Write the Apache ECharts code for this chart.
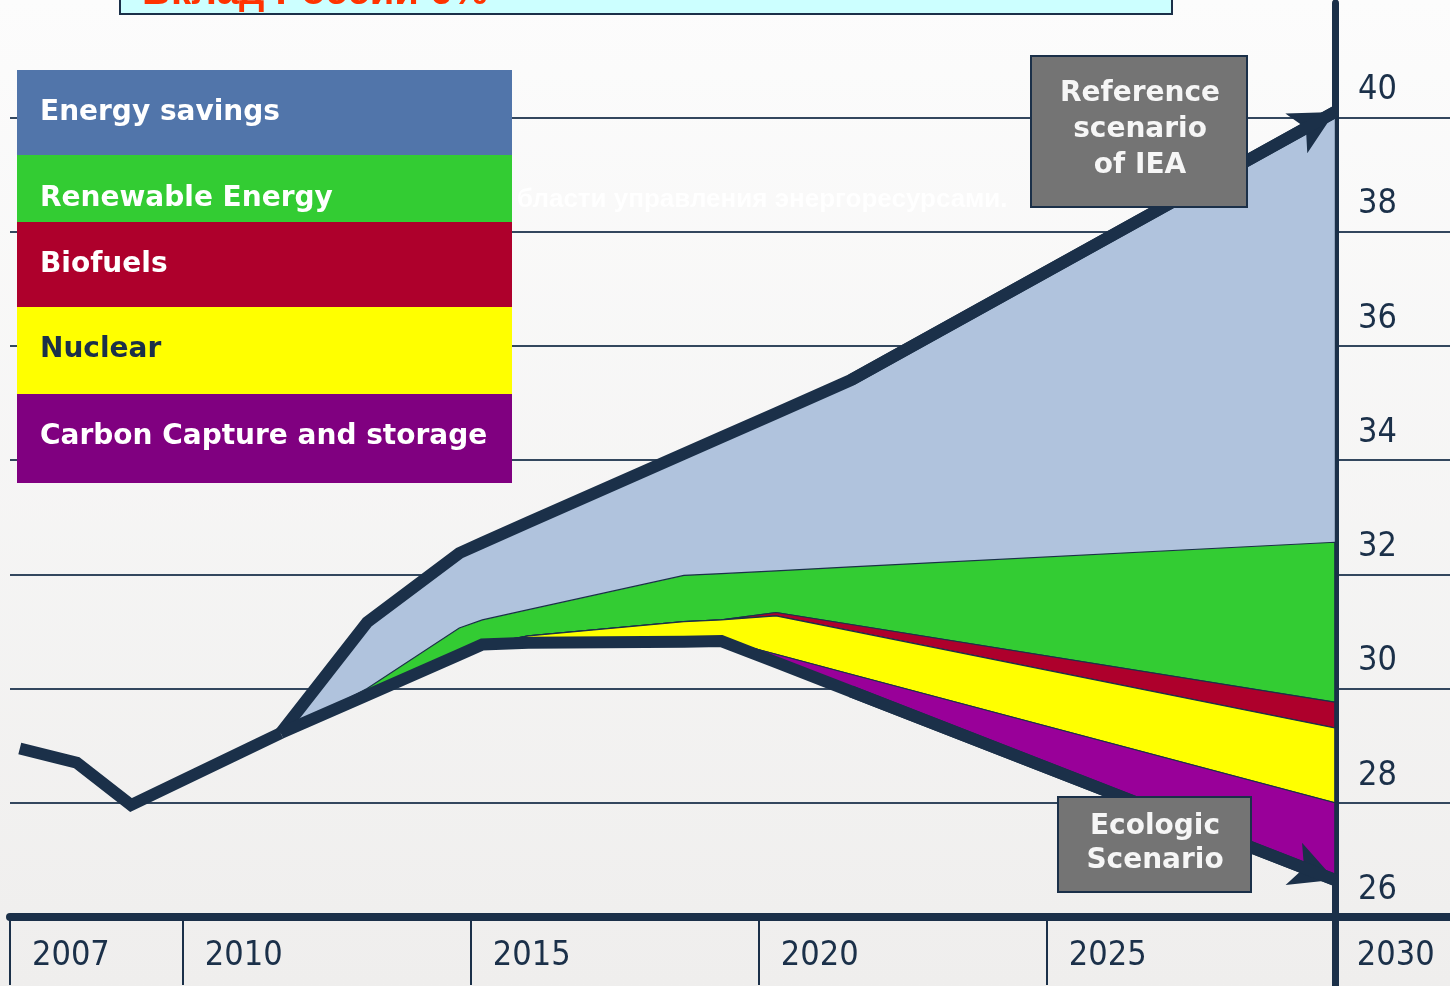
<!DOCTYPE html>
<html><head><meta charset="utf-8">
<script src="https://cdn.jsdelivr.net/npm/echarts@6/dist/echarts.min.js"></script>
<style>html,body{margin:0;padding:0;background:#f6f6f6}#c{width:1450px;height:986px}</style>
</head><body><div id="c"></div>
<script>
// ---- data ----
const histYears = [2007.17, 2008.16, 2009.1, 2011.7];
const histValues = [28.95, 28.7, 27.96, 29.22];

const years        = [2011.7, 2013.2, 2014.8, 2015.2, 2016.0, 2018.7, 2019.35, 2020.3, 2021.6, 2030];
const ecologic     = [29.22, 29.88, 30.59, 30.77, 30.80, 30.82, 30.83, 30.46, 29.95, 26.65];
const ccsTop       = [29.22, 29.88, 30.59, 30.77, 30.80, 30.82, 30.85, 30.60, 30.25, 28.00];
const nuclearTop   = [29.22, 29.88, 30.59, 30.77, 30.92, 31.17, 31.20, 31.27, 31.01, 29.31];
const biofuelTop   = [29.22, 29.88, 30.59, 30.77, 30.92, 31.17, 31.20, 31.33, 31.12, 29.76];
const renewableTop = [29.22, 30.00, 31.06, 31.20, 31.38, 31.98, 32.01, 32.06, 32.13, 32.56];
const reference    = [29.22, 31.16, 32.37, 32.55, 32.91, 34.11, 34.40, 34.82, 35.40, 40.09];

const xTickYears  = [2007, 2010, 2015, 2020, 2025];
const xLabelYears = [2007, 2010, 2015, 2020, 2025, 2030];
const yTicks      = [26, 28, 30, 32, 34, 36, 38, 40];

const legendNames = ['Energy savings', 'Renewable Energy', 'Biofuels', 'Nuclear', 'Carbon Capture and storage'];
const refNote = 'Reference\nscenario\nof IEA';
const ecoNote = 'Ecologic\nScenario';
const topTitle = 'Вклад России 6%';
const ghostText = 'бласти управления энергоресурсами.';

// ---- styling ----
const NAVY = '#1b3049';
const AXIS_FONT = '"Liberation Sans Narrow","DejaVu Sans Condensed","DejaVu Sans",sans-serif';
const BOLD_FONT = '"DejaVu Sans","Liberation Sans",sans-serif';

const pairs = (xs, ys) => xs.map((x, i) => [x, ys[i]]);
const n = years.length;

// filled band between two boundary lines, drawn through the cartesian scales
function bandSeries(name, top, bottom, color, strokeW) {
  return {
    name, type: 'custom', coordinateSystem: 'cartesian2d', silent: true, z: 2, animation: false,
    data: [[years[0], bottom[0]]],
    renderItem: (params, api) => {
      const upper = years.map((x, i) => api.coord([x, top[i]]));
      const lower = years.map((x, i) => api.coord([x, bottom[i]])).reverse();
      return {
        type: 'polygon',
        shape: { points: upper.concat(lower) },
        style: { fill: color, stroke: strokeW ? NAVY : null, lineWidth: strokeW, opacity: 1 }
      };
    }
  };
}
function thickLine(name, data, arrowFrom, arrowTo) {
  const s = {
    name, type: 'line', data, symbol: 'none', silent: true, z: 6, clip: false,
    lineStyle: { width: 12, color: NAVY, join: 'miter', cap: 'butt' },
    animation: false
  };
  if (arrowFrom) {
    s.markLine = {
      silent: true, animation: false, symbol: ['none', 'arrow'], symbolSize: [34, 44],
      label: { show: false },
      lineStyle: { color: NAVY, width: 12, type: 'solid' },
      data: [[{ coord: arrowFrom }, { coord: arrowTo }]]
    };
  }
  return s;
}

const legendLayout = [
  { y: 70, h: 86, fill: '#5175aa', color: '#ffffff', ty: 113 },
  { y: 155, h: 68, fill: '#33cc33', color: '#ffffff', ty: 199 },
  { y: 222, h: 86, fill: '#ae002c', color: '#ffffff', ty: 265 },
  { y: 307, h: 88, fill: '#ffff00', color: NAVY, ty: 350 },
  { y: 394, h: 89, fill: '#800080', color: '#ffffff', ty: 437 }
];

const graphics = [
  { type: 'text', z: 1, style: { text: ghostText, x: 517, y: 200, align: 'left', verticalAlign: 'middle',
      font: 'bold 26px "Liberation Sans", sans-serif', fill: 'rgba(255,255,255,0.9)' } },
  { type: 'rect', z: 20, shape: { x: 120, y: -30, width: 1052, height: 44 },
    style: { fill: '#ccffff', stroke: NAVY, lineWidth: 2 } },
  { type: 'text', z: 21, style: { text: topTitle, x: 142, y: 13, verticalAlign: 'bottom',
      font: 'bold 40px "Liberation Sans", sans-serif', fill: '#ff3300' } },
  { type: 'rect', z: 20, shape: { x: 1031, y: 56, width: 216, height: 151 },
    style: { fill: '#747474', stroke: NAVY, lineWidth: 2 } },
  { type: 'text', z: 21, style: { text: refNote, x: 1140, y: 130, align: 'center', verticalAlign: 'middle',
      font: 'bold 28px ' + BOLD_FONT, lineHeight: 36, fill: '#f6f6f6' } },
  { type: 'rect', z: 20, shape: { x: 1058, y: 797, width: 193, height: 95 },
    style: { fill: '#747474', stroke: NAVY, lineWidth: 2 } },
  { type: 'text', z: 21, style: { text: ecoNote, x: 1155, y: 844, align: 'center', verticalAlign: 'middle',
      font: 'bold 28px ' + BOLD_FONT, lineHeight: 34, fill: '#f6f6f6' } }
];
legendLayout.forEach((r, i) => {
  graphics.push({ type: 'rect', z: 20, shape: { x: 17, y: r.y, width: 495, height: r.h }, style: { fill: r.fill } });
  graphics.push({ type: 'text', z: 21, style: { text: legendNames[i], x: 40, y: r.ty, verticalAlign: 'middle',
      font: 'bold 28px ' + BOLD_FONT, fill: r.color } });
});

const chart = echarts.init(document.getElementById('c'), null, { renderer: 'canvas' });
chart.setOption({
  animation: false,
  backgroundColor: new echarts.graphic.LinearGradient(0, 0, 0, 1, [
    { offset: 0, color: '#fcfcfc' }, { offset: 1, color: '#efeeed' }
  ]),
  grid: { left: 10, right: 0, top: 3, bottom: 69, containLabel: false, outerBoundsMode: 'none' },
  xAxis: [
    {
      type: 'value', min: 2007, max: 2032, position: 'bottom',
      axisLine: { show: true, onZero: false, lineStyle: { color: NAVY, width: 8 } },
      axisTick: { show: true, customValues: xTickYears, length: 68, lineStyle: { color: NAVY, width: 2 } },
      axisLabel: { customValues: xLabelYears, formatter: v => String(v), align: 'left', padding: [0, 0, 0, 22],
        margin: 22, fontSize: 34, fontFamily: AXIS_FONT, color: NAVY },
      splitLine: { show: false }
    },
    {
      type: 'value', min: 2007, max: 2032, position: 'bottom',
      axisLine: { show: false },
      axisTick: { show: true, customValues: [2030], length: 70, lineStyle: { color: NAVY, width: 7 } },
      axisLabel: { show: false },
      splitLine: { show: false }
    }
  ],
  yAxis: {
    type: 'value', min: 26, max: 42, position: 'right', offset: -115,
    axisLine: { show: true, onZero: false, lineStyle: { color: NAVY, width: 7 } },
    axisTick: { show: false, customValues: yTicks },
    axisLabel: { customValues: yTicks, margin: 23, fontSize: 34, fontFamily: AXIS_FONT, color: NAVY,
      verticalAlign: 'bottom', padding: [0, 0, 10, 0] },
    splitLine: { show: true, lineStyle: { color: '#33475e', width: 2 } }
  },
  series: [
    bandSeries(legendNames[0], reference, renewableTop, '#b0c3dd', 0),
    bandSeries(legendNames[1], renewableTop, biofuelTop, '#33cc33', 1.2),
    bandSeries(legendNames[2], biofuelTop, nuclearTop, '#ae002c', 1.2),
    bandSeries(legendNames[3], nuclearTop, ccsTop, '#ffff00', 1.2),
    bandSeries(legendNames[4], ccsTop, ecologic, '#990099', 1.2),
    thickLine('history', pairs(histYears, histValues)),
    thickLine('reference', pairs(years, reference), [years[n - 2], reference[n - 2]], [years[n - 1], reference[n - 1]]),
    thickLine('ecologic', pairs(years, ecologic), [years[n - 2], ecologic[n - 2]], [years[n - 1], ecologic[n - 1]])
  ],
  graphic: graphics
});
</script></body></html>
